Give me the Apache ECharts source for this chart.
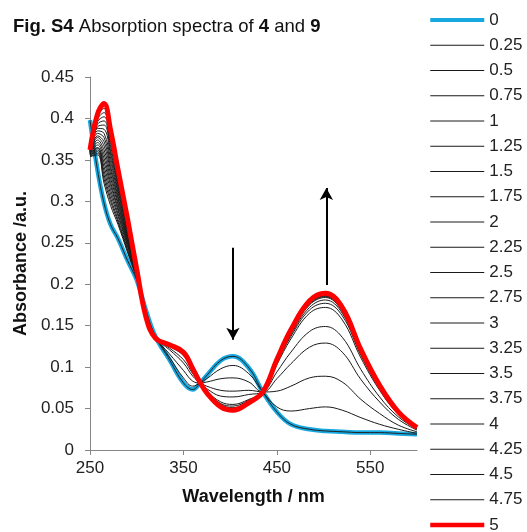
<!DOCTYPE html>
<html>
<head>
<meta charset="utf-8">
<script src="https://cdn.jsdelivr.net/npm/echarts@6/dist/echarts.min.js"></script>
<style>html,body{margin:0;padding:0;background:#fff;}#c{width:527px;height:532px;}</style>
</head>
<body>
<div id="c"></div>
<script>
// wavelengths (nm)
var wavelengths = [250, 258, 265, 272, 280, 290, 300, 310, 320, 335, 350, 360, 368, 375, 390, 403, 420, 435, 450, 465, 485, 502, 520, 540, 560, 580, 600];
// series names (equivalents)
var seriesNames = ['0','0.25','0.5','0.75','1','1.25','1.5','1.75','2','2.25','2.5','2.75','3','3.25','3.5','3.75','4','4.25','4.5','4.75','5'];
// absorbance values
var s0    = [.398,.338,.298,.272,.255,.229,.205,.168,.137,.109,.081,.073,.081,.090,.108,.113,.099,.070,.046,.031,.025,.023,.022,.021,.021,.020,.019];
var s0_25 = [.354,.356,.322,.295,.272,.239,.207,.167,.137,.112,.087,.077,.081,.086,.098,.102,.092,.070,.052,.047,.050,.052,.048,.039,.031,.025,.020];
var s0_5  = [.354,.358,.327,.300,.275,.241,.207,.165,.136,.116,.096,.083,.081,.082,.086,.087,.082,.070,.071,.077,.087,.089,.082,.061,.044,.030,.022];
var s0_75 = [.355,.360,.332,.304,.278,.243,.208,.163,.136,.121,.105,.089,.081,.077,.072,.071,.072,.070,.086,.104,.124,.129,.118,.085,.058,.037,.024];
var s1    = [.355,.362,.337,.309,.282,.246,.208,.162,.135,.123,.109,.092,.081,.074,.065,.064,.067,.070,.094,.118,.143,.149,.136,.097,.064,.040,.025];
var s1_25 = [.356,.364,.342,.314,.285,.248,.209,.161,.135,.125,.114,.096,.081,.071,.058,.055,.061,.070,.103,.134,.165,.172,.157,.111,.072,.043,.026];
var s1_5  = [.356,.365,.347,.319,.289,.250,.209,.161,.135,.126,.115,.096,.081,.070,.056,.053,.060,.070,.105,.137,.169,.177,.162,.114,.074,.044,.026];
var s1_75 = [.357,.368,.352,.323,.292,.252,.210,.160,.135,.126,.116,.097,.081,.070,.055,.051,.059,.070,.106,.139,.172,.181,.165,.116,.075,.045,.027];
var s2    = [.357,.371,.357,.328,.296,.254,.210,.160,.135,.126,.117,.097,.081,.070,.054,.050,.058,.070,.107,.141,.175,.184,.167,.118,.076,.045,.027];
var s2_25 = [.358,.374,.362,.333,.299,.256,.211,.160,.135,.126,.117,.097,.081,.070,.053,.050,.058,.070,.107,.142,.176,.185,.168,.119,.077,.045,.027];
var s2_5  = [.358,.377,.367,.338,.303,.258,.212,.160,.135,.126,.117,.097,.081,.070,.053,.049,.058,.070,.108,.143,.177,.186,.169,.119,.077,.045,.027];
var s2_75 = [.359,.379,.372,.342,.306,.260,.212,.160,.135,.127,.117,.097,.081,.069,.053,.049,.058,.070,.108,.143,.178,.186,.170,.119,.077,.046,.027];
var s3    = [.359,.382,.377,.347,.310,.263,.213,.160,.135,.127,.117,.098,.081,.069,.053,.049,.057,.070,.108,.144,.178,.187,.170,.120,.077,.046,.027];
var s3_25 = [.360,.385,.382,.352,.313,.265,.214,.160,.135,.127,.118,.098,.081,.069,.053,.049,.057,.070,.108,.144,.178,.187,.171,.120,.077,.046,.027];
var s3_5  = [.360,.388,.387,.357,.317,.267,.214,.160,.135,.127,.118,.098,.081,.069,.052,.049,.057,.070,.109,.144,.179,.188,.171,.120,.078,.046,.027];
var s3_75 = [.361,.390,.392,.361,.320,.269,.215,.160,.135,.127,.118,.098,.081,.069,.052,.048,.057,.070,.109,.144,.179,.188,.171,.120,.078,.046,.027];
var s4    = [.361,.393,.397,.366,.323,.271,.216,.160,.135,.127,.118,.098,.081,.069,.052,.048,.057,.070,.109,.145,.179,.188,.172,.121,.078,.046,.027];
var s4_25 = [.362,.396,.402,.371,.327,.273,.216,.160,.135,.127,.118,.098,.081,.069,.052,.048,.057,.070,.109,.145,.180,.189,.172,.121,.078,.046,.027];
var s4_5  = [.362,.399,.407,.376,.330,.275,.217,.160,.135,.127,.118,.098,.081,.069,.052,.048,.057,.070,.109,.145,.180,.189,.172,.121,.078,.046,.027];
var s4_75 = [.363,.402,.412,.380,.334,.277,.217,.160,.135,.127,.118,.098,.081,.069,.052,.048,.057,.070,.109,.145,.180,.189,.172,.121,.078,.046,.027];
var s5    = [.362,.405,.418,.386,.338,.280,.218,.160,.135,.127,.118,.098,.081,.069,.052,.048,.057,.070,.109,.145,.180,.189,.172,.121,.078,.046,.027];
// annotation arrows [x, yStart, yEnd]
var arrowDown = [403, 0.244, 0.133];
var arrowUp   = [503, 0.199, 0.316];

var allData = [s0,s0_25,s0_5,s0_75,s1,s1_25,s1_5,s1_75,s2,s2_25,s2_5,s2_75,s3,s3_25,s3_5,s3_75,s4,s4_25,s4_5,s4_75,s5];
var FONT = "'Liberation Sans', Arial, sans-serif";

function pairs(arr){ return wavelengths.map(function(w,i){ return [w, arr[i]]; }); }

var series = [];
var legendData = [];
allData.forEach(function(arr, i){
  var first = i === 0, last = i === allData.length - 1;
  var color = first ? '#16A8E0' : (last ? '#FF0000' : '#1a1a1a');
  var width = first ? 4.5 : (last ? 5 : 1);
  legendData.push({name: seriesNames[i], lineStyle: {width: first ? 4 : (last ? 4.5 : 1)}});
  series.push({
    name: seriesNames[i], type: 'line', data: pairs(arr), smooth: 0.4,
    symbol: 'none', showSymbol: false,
    lineStyle: {color: color, width: width}, itemStyle: {color: color},
    emphasis: {disabled: true}, silent: true
  });
  if (first) {
    series.push({
      name: '_outline', type: 'line', data: pairs(arr), smooth: 0.4,
      symbol: 'none', lineStyle: {color: '#222', width: 1}, silent: true
    });
  }
});
series[series.length - 1].markLine = {
  silent: true, symbol: ['none', 'arrow'], symbolSize: [10, 12],
  label: {show: false},
  lineStyle: {color: '#000', width: 2, type: 'solid'},
  data: [
    [{coord: [arrowDown[0], arrowDown[1]]}, {coord: [arrowDown[0], arrowDown[2]]}],
    [{coord: [arrowUp[0], arrowUp[1]]}, {coord: [arrowUp[0], arrowUp[2]]}]
  ]
};

var chart = echarts.init(document.getElementById('c'), null, {renderer: 'canvas'});
chart.setOption({
  animation: false,
  backgroundColor: '#fff',
  title: {
    left: 13, top: 17, padding: 0,
    text: '{b|Fig. S4} Absorption spectra of {b|4} and {b|9}',
    textStyle: {fontFamily: FONT, fontSize: 18.5, fontWeight: 'normal', color: '#111',
      rich: {b: {fontFamily: FONT, fontSize: 18.5, fontWeight: 'bold', color: '#111'}}}
  },
  legend: {
    orient: 'vertical', left: 428, top: 11.5, height: 580, padding: 0,
    itemWidth: 54, itemHeight: 14, itemGap: 8.25,
    data: legendData,
    itemStyle: {opacity: 0},
    textStyle: {fontFamily: FONT, fontSize: 17, color: '#222'},
    selectedMode: false
  },
  grid: {left: 90, right: 110, top: 77, bottom: 82},
  xAxis: {
    type: 'value', min: 250, max: 600, interval: 100,
    name: 'Wavelength / nm', nameLocation: 'middle', nameGap: 38,
    nameTextStyle: {fontFamily: FONT, fontSize: 18, fontWeight: 'bold', color: '#111'},
    axisLine: {lineStyle: {color: '#868686', width: 1}},
    axisTick: {show: true, length: 5, lineStyle: {color: '#868686'}},
    axisLabel: {fontFamily: FONT, fontSize: 17, color: '#222', margin: 10, showMaxLabel: false},
    splitLine: {show: false}
  },
  yAxis: {
    type: 'value', min: 0, max: 0.45, interval: 0.05,
    name: 'Absorbance /a.u.', nameLocation: 'middle', nameGap: 59, nameRotate: 90,
    nameTextStyle: {fontFamily: FONT, fontSize: 18, fontWeight: 'bold', color: '#111'},
    axisLine: {show: true, lineStyle: {color: '#868686', width: 1}},
    axisTick: {show: true, length: 5, lineStyle: {color: '#868686'}},
    axisLabel: {fontFamily: FONT, fontSize: 17, color: '#222', margin: 16},
    splitLine: {show: false}
  },
  series: series
});
</script>
</body>
</html>
